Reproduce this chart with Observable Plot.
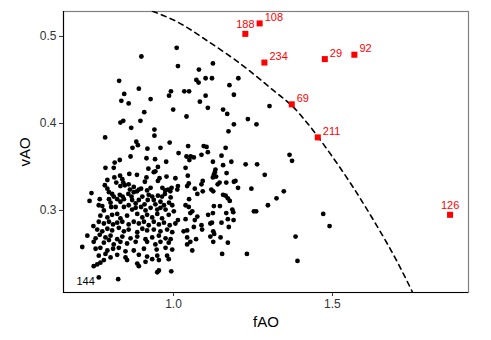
<!DOCTYPE html>
<html>
<head>
<meta charset="utf-8">
<script src="https://cdn.jsdelivr.net/npm/d3@7"></script>
<script src="https://cdn.jsdelivr.net/npm/@observablehq/plot@0.6"></script>
<style>
  body { margin: 0; background: #fff; }
  #chart { width: 491px; height: 340px; }
</style>
</head>
<body>
<div id="chart"></div>
<script>
// Black points (fAO, vAO)
const fAO = [
  1.010,0.899,1.014,0.829,0.891,0.845,0.836,0.859,0.928,0.992,
  0.986,1.034,1.049,0.999,0.908,0.896,0.842,0.833,1.041,0.867,
  0.940,1.124,1.080,1.072,1.079,1.101,1.121,1.204,1.176,1.101,
  1.190,1.083,1.108,1.156,1.169,1.302,1.234,1.261,1.190,1.173,
  1.095,1.104,1.164,1.365,1.373,1.151,1.108,1.088,1.124,1.156,
  1.182,1.227,1.263,1.132,1.287,1.167,1.166,1.190,1.195,1.203,
  1.245,1.145,1.139,1.156,1.164,1.171,1.177,1.347,1.324,1.297,
  1.253,1.260,1.185,1.188,1.189,1.166,1.171,1.174,1.151,1.148,
  1.171,1.153,1.231,1.471,1.491,1.384,1.390,1.046,1.054,1.064,
  1.038,1.130,1.127,1.045,1.134,1.124,1.092,1.088,1.048,1.043,
  1.067,1.092,1.075,1.119,1.125,1.049,1.038,1.048,1.127,1.146,
  1.059,1.053,1.075,1.038,1.067,1.109,1.124,1.088,1.090,1.116,
  1.121,1.064,1.043,1.125,1.128,1.116,1.043,1.071,1.125,1.043,
  1.059,0.940,0.785,0.883,0.888,0.871,0.988,0.918,0.959,1.016,
  0.865,0.915,0.942,0.831,0.815,0.812,0.786,0.977,0.921,0.951,
  0.943,0.938,1.041,1.050,0.885,0.861,0.832,0.839,0.842,0.814,
  0.820,0.792,0.915,0.910,0.978,0.956,0.951,1.006,0.784,0.792,
  0.833,0.847,0.859,0.875,0.863,0.891,0.898,0.928,0.917,0.965,
  0.974,0.983,0.994,0.990,1.014,1.012,0.742,0.797,0.807,0.812,
  0.831,0.840,0.844,0.858,0.868,0.875,0.885,0.902,0.922,0.933,
  0.951,0.964,0.973,0.991,0.768,0.736,0.797,0.802,0.823,0.833,
  0.870,0.881,0.891,0.909,0.919,0.938,0.943,0.959,0.970,0.986,
  0.996,0.765,0.776,0.804,0.818,0.844,0.859,0.898,0.781,0.870,
  0.881,0.912,0.928,0.949,0.959,0.975,1.001,0.770,0.792,0.807,
  0.823,0.833,0.854,0.886,0.902,0.917,0.933,0.949,0.964,0.985,
  1.014,0.748,0.765,0.781,0.797,0.810,0.823,0.839,0.859,0.875,
  0.891,0.907,0.922,0.938,0.954,0.970,0.988,1.006,0.760,0.776,
  0.792,0.807,0.828,0.844,0.859,0.886,0.902,0.917,0.938,0.959,
  0.980,0.996,1.032,0.729,0.755,0.768,0.786,0.802,0.823,0.839,
  0.865,0.886,0.912,0.933,0.954,0.975,0.991,1.053,0.749,0.781,
  0.797,0.812,0.833,0.854,0.881,0.917,0.943,0.959,0.985,0.713,
  0.755,0.770,0.792,0.810,0.828,0.849,0.875,0.907,0.947,0.975,
  0.996,0.765,0.786,0.802,0.823,0.849,0.891,0.917,0.949,0.980,
  0.781,0.770,0.760,0.749,0.854,0.886,0.912,0.933,0.954,0.985,
  0.891,0.954,0.949,0.993,0.765,0.826
];
const vAO = [
  0.487,0.477,0.466,0.449,0.440,0.434,0.426,0.423,0.428,0.437,
  0.432,0.437,0.437,0.416,0.413,0.403,0.403,0.401,0.408,0.395,
  0.393,0.469,0.462,0.450,0.447,0.452,0.452,0.452,0.444,0.432,
  0.433,0.425,0.418,0.416,0.411,0.420,0.405,0.399,0.399,0.391,
  0.374,0.373,0.372,0.364,0.357,0.363,0.367,0.364,0.356,0.352,
  0.356,0.353,0.353,0.347,0.341,0.343,0.332,0.333,0.334,0.326,
  0.325,0.332,0.330,0.318,0.317,0.314,0.311,0.322,0.314,0.306,
  0.299,0.299,0.301,0.298,0.289,0.297,0.290,0.281,0.286,0.269,
  0.263,0.250,0.250,0.296,0.282,0.270,0.242,0.374,0.362,0.361,
  0.349,0.344,0.341,0.340,0.339,0.338,0.334,0.330,0.331,0.328,
  0.325,0.322,0.319,0.324,0.322,0.313,0.306,0.304,0.305,0.305,
  0.299,0.297,0.293,0.290,0.289,0.295,0.297,0.283,0.278,0.285,
  0.286,0.281,0.277,0.276,0.273,0.270,0.269,0.267,0.264,0.261,
  0.254,0.386,0.384,0.379,0.375,0.372,0.378,0.371,0.372,0.366,
  0.362,0.360,0.359,0.358,0.355,0.349,0.349,0.356,0.348,0.350,
  0.345,0.344,0.362,0.358,0.341,0.342,0.340,0.336,0.332,0.338,
  0.332,0.335,0.338,0.333,0.339,0.337,0.334,0.337,0.329,0.325,
  0.328,0.329,0.330,0.327,0.324,0.324,0.325,0.326,0.323,0.326,
  0.323,0.324,0.326,0.322,0.328,0.324,0.320,0.321,0.319,0.316,
  0.318,0.316,0.313,0.319,0.316,0.321,0.322,0.316,0.318,0.316,
  0.317,0.316,0.319,0.315,0.313,0.311,0.313,0.309,0.313,0.310,
  0.312,0.308,0.312,0.307,0.312,0.312,0.307,0.310,0.306,0.309,
  0.306,0.306,0.305,0.304,0.304,0.304,0.306,0.304,0.300,0.301,
  0.303,0.300,0.303,0.301,0.303,0.301,0.299,0.294,0.292,0.295,
  0.296,0.291,0.294,0.296,0.292,0.295,0.292,0.296,0.291,0.295,
  0.289,0.282,0.287,0.285,0.287,0.284,0.286,0.287,0.284,0.287,
  0.285,0.287,0.283,0.287,0.284,0.286,0.283,0.285,0.278,0.276,
  0.279,0.277,0.280,0.276,0.278,0.275,0.279,0.277,0.278,0.276,
  0.278,0.275,0.276,0.271,0.268,0.272,0.269,0.271,0.267,0.270,
  0.268,0.270,0.267,0.269,0.271,0.268,0.267,0.264,0.264,0.263,
  0.266,0.261,0.264,0.262,0.264,0.264,0.261,0.264,0.263,0.258,
  0.256,0.257,0.254,0.256,0.257,0.253,0.254,0.256,0.255,0.257,
  0.255,0.248,0.250,0.246,0.249,0.246,0.249,0.247,0.248,0.248,
  0.243,0.240,0.238,0.236,0.243,0.239,0.241,0.244,0.243,0.244,
  0.236,0.231,0.229,0.230,0.223,0.221
];

// Highlighted (red) observations
const redLabels = ["188", "108", "234", "29", "92", "69", "211", "126"];
const redX = [1.226, 1.271, 1.286, 1.476, 1.569, 1.372, 1.454, 1.870];
const redY = [0.503, 0.515, 0.470, 0.474, 0.479, 0.422, 0.384, 0.295];

// Labelled black observation
const markLabels = ["144"];
const markX = [0.765];
const markY = [0.223];

// Dashed boundary curve
const curveX = [0.934, 1.016, 1.094, 1.179, 1.258, 1.321, 1.371, 1.415, 1.456, 1.541, 1.619, 1.692, 1.752];
const curveY = [0.529, 0.516, 0.498, 0.477, 0.455, 0.436, 0.421, 0.403, 0.384, 0.340, 0.295, 0.249, 0.206];

// Axis ticks
const xTicks = [1.0, 1.5];
const yTicks = [0.3, 0.4, 0.5];
const xTitle = "fAO";
const yTitle = "vAO";

const xDomain = [0.654, 1.928];
const yDomain = [0.2057, 0.5287];

const points = fAO.map((f, i) => ({f, v: vAO[i]}));
const red = redLabels.map((id, i) => ({id, x: redX[i], y: redY[i]}));
const marked = markLabels.map((id, i) => ({id, x: markX[i], y: markY[i]}));
const curve = curveX.map((x, i) => ({x, y: curveY[i]}));
const above = new Set(["188", "126"]);

const chart = Plot.plot({
  width: 491,
  height: 340,
  marginLeft: 63,
  marginRight: 23,
  marginTop: 11,
  marginBottom: 48,
  style: {
    fontFamily: "'Liberation Sans', Arial, Helvetica, sans-serif",
    fontSize: "12px",
    color: "#333",
    background: "white"
  },
  x: {domain: xDomain, ticks: xTicks, tickFormat: d3.format(".1f"), tickSize: 4, tickPadding: 3, label: null},
  y: {domain: yDomain, ticks: yTicks, tickFormat: d3.format(".1f"), tickSize: 4, tickPadding: 3, label: null},
  marks: [
    Plot.frame({stroke: "#808080", strokeWidth: 1.2}),
    Plot.ruleX([xDomain[0]], {stroke: "black", strokeWidth: 1.1}),
    Plot.ruleY([yDomain[0]], {stroke: "black", strokeWidth: 1.1}),
    Plot.line(curve, {x: "x", y: "y", curve: "natural", stroke: "black", strokeWidth: 1.6, strokeDasharray: "5,4.5", clip: true}),
    Plot.dot(points, {x: "f", y: "v", r: 2.4, fill: "black"}),
    Plot.dot(red, {x: "x", y: "y", symbol: "square", r: 3.4, fill: "#FF0000"}),
    Plot.text(red.filter(d => !above.has(d.id)), {x: "x", y: "y", text: "id", textAnchor: "start", dx: 5, dy: -6, fill: "#FF0000", fontSize: 11}),
    Plot.text(red.filter(d => above.has(d.id)), {x: "x", y: "y", text: "id", textAnchor: "middle", dy: -9, fill: "#FF0000", fontSize: 11}),
    Plot.text(marked, {x: "x", y: "y", text: "id", textAnchor: "end", dx: -4, dy: 4, fill: "black", fontSize: 11}),
    Plot.text([xTitle], {frameAnchor: "bottom", dy: 30, lineAnchor: "middle", textAnchor: "middle", fontSize: 15, fill: "black"}),
    Plot.text([yTitle], {frameAnchor: "left", dx: -38, rotate: -90, lineAnchor: "middle", textAnchor: "middle", fontSize: 15, fill: "black"})
  ]
});
document.getElementById("chart").appendChild(chart);
</script>
</body>
</html>
